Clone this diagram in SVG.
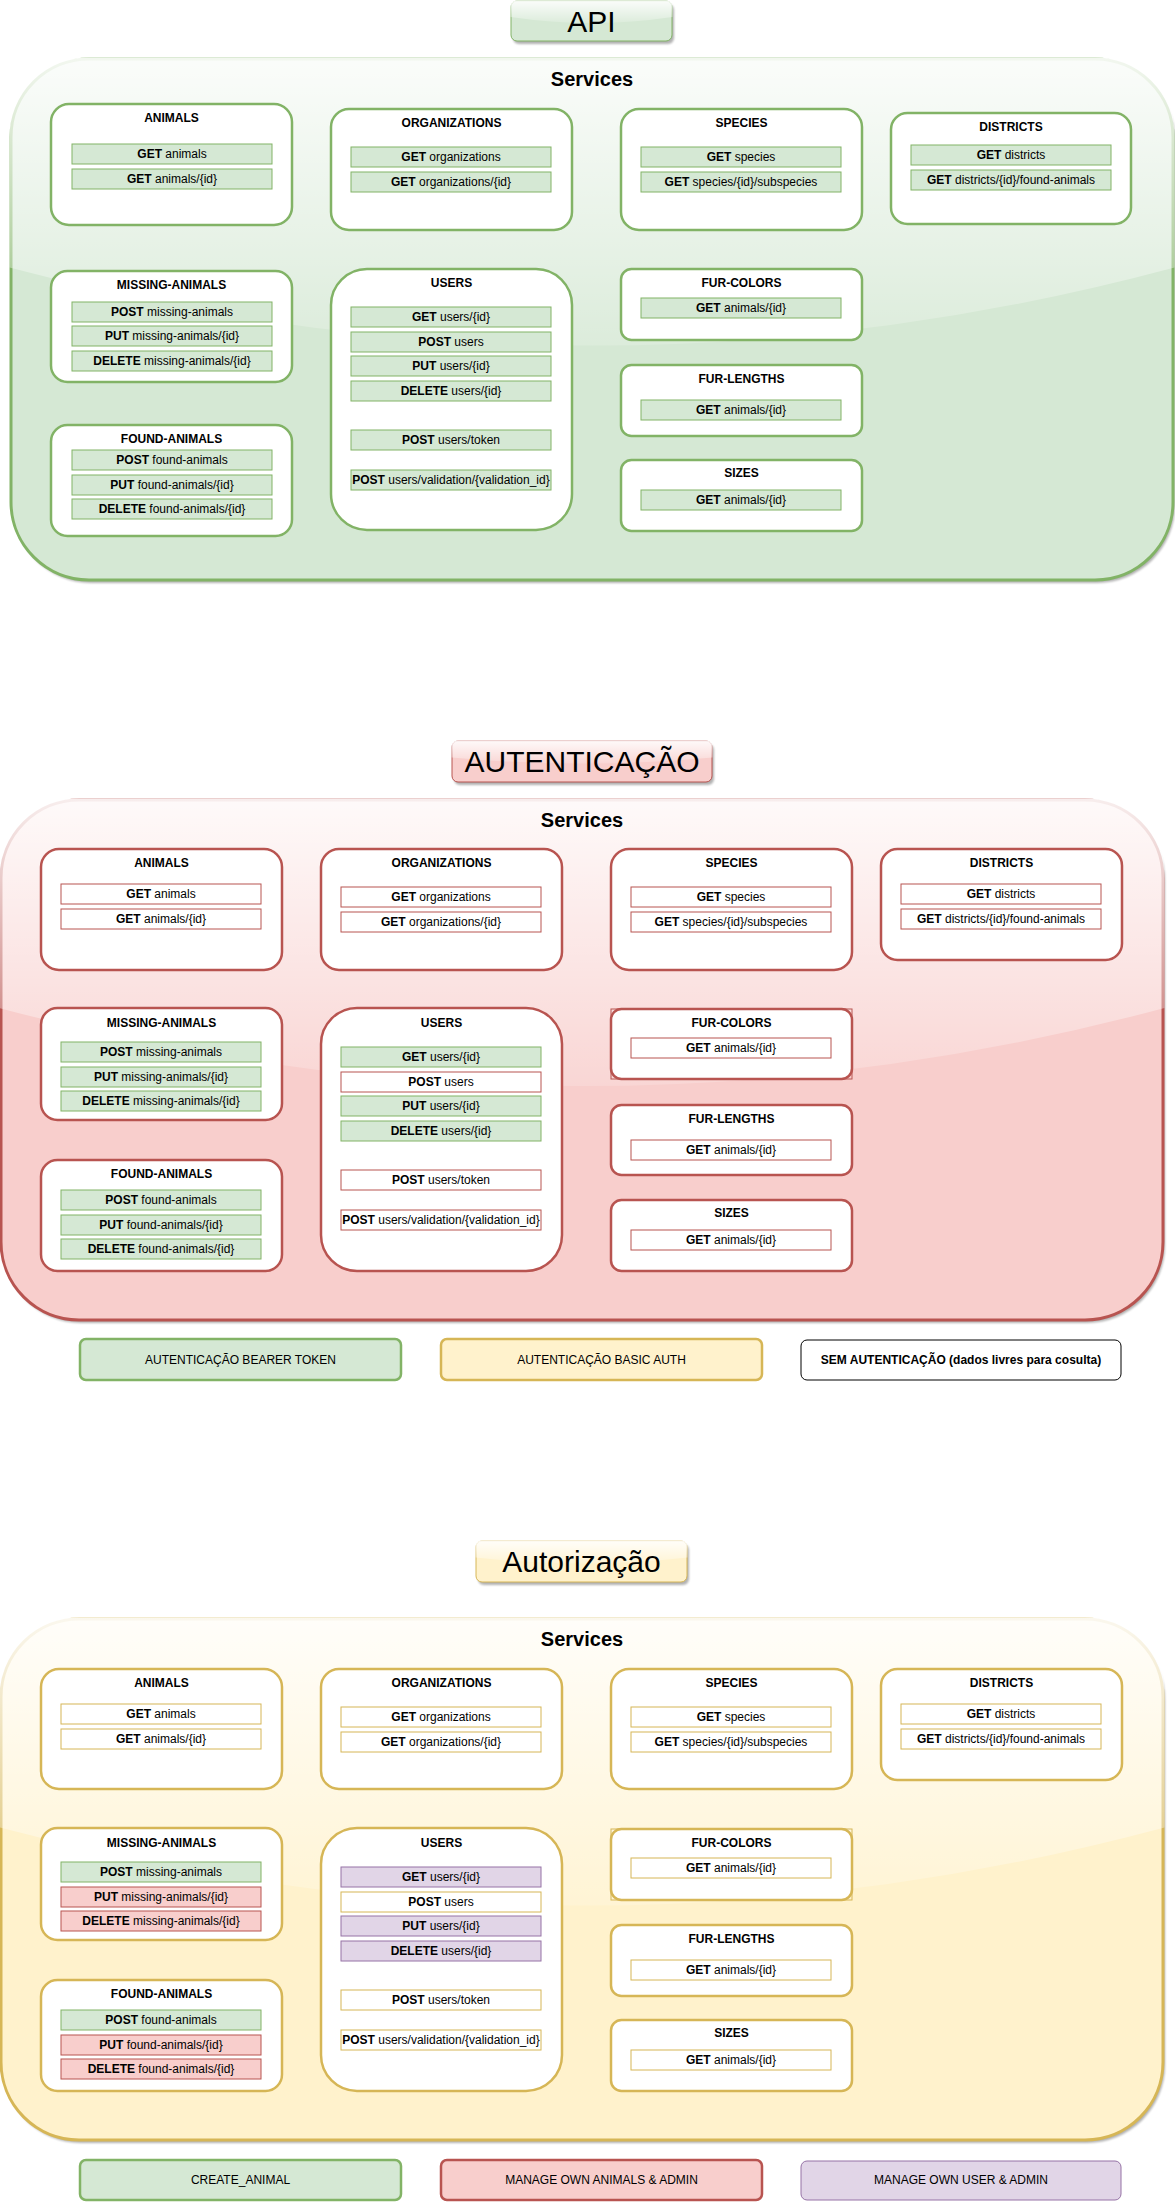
<svg xmlns="http://www.w3.org/2000/svg" width="1175" height="2202" viewBox="0 0 1175 2202">
<defs>
<linearGradient id="glass" x1="0" y1="0" x2="0" y2="1.09">
<stop offset="0" stop-color="#fff" stop-opacity="0.9"/>
<stop offset="1" stop-color="#fff" stop-opacity="0.1"/>
</linearGradient>
<filter id="blur" x="-5%" y="-5%" width="110%" height="110%"><feGaussianBlur stdDeviation="1.2"/></filter>
<style>
text{font-family:"Liberation Sans",Arial,sans-serif;fill:#000}
.tt{font-size:30px;text-anchor:middle}
.sv{font-size:20px;font-weight:bold;text-anchor:middle}
.bt{font-size:12px;font-weight:bold;text-anchor:middle}
.et{font-size:12px;text-anchor:middle}
.lt{font-size:12px;text-anchor:middle}
.b{font-weight:bold}
.shd{fill:#000;opacity:0.3;filter:url(#blur)}
.gl{fill:url(#glass);stroke:none}
.cg{fill:#d5e8d4;stroke:#82b366;stroke-width:3}
.cr{fill:#f8cecc;stroke:#b85450;stroke-width:3}
.cy{fill:#fff2cc;stroke:#d6b656;stroke-width:3}
.tg{fill:#d5e8d4;stroke:#82b366;stroke-width:1}
.tr{fill:#f8cecc;stroke:#b85450;stroke-width:1}
.ty{fill:#fff2cc;stroke:#d6b656;stroke-width:1}
.bg{fill:#fff;stroke:#82b366;stroke-width:2.5}
.br{fill:#fff;stroke:#b85450;stroke-width:2.5}
.by{fill:#fff;stroke:#d6b656;stroke-width:2.5}
.sqr{fill:none;stroke:#b85450;stroke-width:1}
.sqy{fill:none;stroke:#d6b656;stroke-width:1}
.eg{fill:#d5e8d4;stroke:#82b366;stroke-width:1}
.ewr{fill:#fff;stroke:#b85450;stroke-width:1}
.ewy{fill:#fff;stroke:#d6b656;stroke-width:1}
.er{fill:#f8cecc;stroke:#b85450;stroke-width:1}
.ep{fill:#e1d5e7;stroke:#9673a6;stroke-width:1}
.lg{fill:#d5e8d4;stroke:#82b366;stroke-width:2.5}
.ly{fill:#fff2cc;stroke:#d6b656;stroke-width:2.5}
.lr{fill:#f8cecc;stroke:#b85450;stroke-width:2.5}
.lp{fill:#e1d5e7;stroke:#9673a6;stroke-width:1}
.lw{fill:#fff;stroke:#000;stroke-width:1}
</style>
</defs>
<rect width="1175" height="2202" fill="#fff"/>

<!-- ===================== API ===================== -->
<g id="api-title">
<rect class="shd" x="513" y="4" width="161" height="40" rx="6"/>
<rect class="tg" x="511" y="1" width="161" height="40" rx="6"/>
<path class="gl" d="M517,0.5 Q510.5,0.5 510.5,7 L510.5,17 Q591.5,29 672.5,17 L672.5,7 Q672.5,0.5 666,0.5 Z"/>
<text class="tt" x="591.5" y="32">API</text>
</g>
<g id="api-services">
<rect class="shd" x="13" y="62" width="1162" height="521" rx="78"/>
<rect class="cg" x="11" y="59" width="1162" height="521" rx="78"/>
<path class="gl" d="M89,57.5 Q9.5,57.5 9.5,137 L9.5,267.4 Q592,423.7 1174.5,267.4 L1174.5,137 Q1174.5,57.5 1095,57.5 Z"/>
<text class="sv" x="592" y="86">Services</text>
</g>
<g id="api-animals">
<rect class="bg" x="51" y="104" width="241" height="121" rx="18"/>
<text class="bt" x="171.5" y="122">ANIMALS</text>
<rect class="eg" x="72" y="144" width="200" height="20"/><text class="et" x="172" y="158"><tspan class="b">GET</tspan> animals</text>
<rect class="eg" x="72" y="169" width="200" height="20"/><text class="et" x="172" y="183"><tspan class="b">GET</tspan> animals/{id}</text>
</g>
<g id="api-organizations">
<rect class="bg" x="331" y="109" width="241" height="121" rx="18"/>
<text class="bt" x="451.5" y="127">ORGANIZATIONS</text>
<rect class="eg" x="351" y="147" width="200" height="20"/><text class="et" x="451" y="161"><tspan class="b">GET</tspan> organizations</text>
<rect class="eg" x="351" y="172" width="200" height="20"/><text class="et" x="451" y="186"><tspan class="b">GET</tspan> organizations/{id}</text>
</g>
<g id="api-species">
<rect class="bg" x="621" y="109" width="241" height="121" rx="18"/>
<text class="bt" x="741.5" y="127">SPECIES</text>
<rect class="eg" x="641" y="147" width="200" height="20"/><text class="et" x="741" y="161"><tspan class="b">GET</tspan> species</text>
<rect class="eg" x="641" y="172" width="200" height="20"/><text class="et" x="741" y="186"><tspan class="b">GET</tspan> species/{id}/subspecies</text>
</g>
<g id="api-districts">
<rect class="bg" x="891" y="113" width="240" height="111" rx="16.5"/>
<text class="bt" x="1011" y="131">DISTRICTS</text>
<rect class="eg" x="911" y="145" width="200" height="20"/><text class="et" x="1011" y="159"><tspan class="b">GET</tspan> districts</text>
<rect class="eg" x="911" y="170" width="200" height="20"/><text class="et" x="1011" y="184"><tspan class="b">GET</tspan> districts/{id}/found-animals</text>
</g>
<g id="api-missing-animals">
<rect class="bg" x="51" y="271" width="241" height="111" rx="16.5"/>
<text class="bt" x="171.5" y="289">MISSING-ANIMALS</text>
<rect class="eg" x="72" y="302" width="200" height="20"/><text class="et" x="172" y="316"><tspan class="b">POST</tspan> missing-animals</text>
<rect class="eg" x="72" y="326" width="200" height="20"/><text class="et" x="172" y="340"><tspan class="b">PUT</tspan> missing-animals/{id}</text>
<rect class="eg" x="72" y="351" width="200" height="20"/><text class="et" x="172" y="365"><tspan class="b">DELETE</tspan> missing-animals/{id}</text>
</g>
<g id="api-found-animals">
<rect class="bg" x="51" y="425" width="241" height="111" rx="16.5"/>
<text class="bt" x="171.5" y="443">FOUND-ANIMALS</text>
<rect class="eg" x="72" y="450" width="200" height="20"/><text class="et" x="172" y="464"><tspan class="b">POST</tspan> found-animals</text>
<rect class="eg" x="72" y="475" width="200" height="20"/><text class="et" x="172" y="489"><tspan class="b">PUT</tspan> found-animals/{id}</text>
<rect class="eg" x="72" y="499" width="200" height="20"/><text class="et" x="172" y="513"><tspan class="b">DELETE</tspan> found-animals/{id}</text>
</g>
<g id="api-users">
<rect class="bg" x="331" y="269" width="241" height="261" rx="36"/>
<text class="bt" x="451.5" y="287">USERS</text>
<rect class="eg" x="351" y="307" width="200" height="20"/><text class="et" x="451" y="321"><tspan class="b">GET</tspan> users/{id}</text>
<rect class="eg" x="351" y="332" width="200" height="20"/><text class="et" x="451" y="346"><tspan class="b">POST</tspan> users</text>
<rect class="eg" x="351" y="356" width="200" height="20"/><text class="et" x="451" y="370"><tspan class="b">PUT</tspan> users/{id}</text>
<rect class="eg" x="351" y="381" width="200" height="20"/><text class="et" x="451" y="395"><tspan class="b">DELETE</tspan> users/{id}</text>
<rect class="eg" x="351" y="430" width="200" height="20"/><text class="et" x="451" y="444"><tspan class="b">POST</tspan> users/token</text>
<rect class="eg" x="351" y="470" width="200" height="20"/><text class="et" x="451" y="484"><tspan class="b">POST</tspan> users/validation/{validation_id}</text>
</g>
<g id="api-fur-colors">
<rect class="bg" x="621" y="269" width="241" height="71" rx="10.5"/>
<text class="bt" x="741.5" y="287">FUR-COLORS</text>
<rect class="eg" x="641" y="298" width="200" height="20"/><text class="et" x="741" y="312"><tspan class="b">GET</tspan> animals/{id}</text>
</g>
<g id="api-fur-lengths">
<rect class="bg" x="621" y="365" width="241" height="71" rx="10.5"/>
<text class="bt" x="741.5" y="383">FUR-LENGTHS</text>
<rect class="eg" x="641" y="400" width="200" height="20"/><text class="et" x="741" y="414"><tspan class="b">GET</tspan> animals/{id}</text>
</g>
<g id="api-sizes">
<rect class="bg" x="621" y="460" width="241" height="71" rx="10.5"/>
<text class="bt" x="741.5" y="477">SIZES</text>
<rect class="eg" x="641" y="490" width="200" height="20"/><text class="et" x="741" y="504"><tspan class="b">GET</tspan> animals/{id}</text>
</g>

<!-- ===================== AUTENTICACAO ===================== -->
<g id="auth-title">
<rect class="shd" x="454" y="744" width="260" height="41" rx="6"/>
<rect class="tr" x="452" y="741" width="260" height="41" rx="6"/>
<path class="gl" d="M458,740.5 Q451.5,740.5 451.5,747 L451.5,757.4 Q582,769.7 712.5,757.4 L712.5,747 Q712.5,740.5 706,740.5 Z"/>
<text class="tt" x="582" y="772">AUTENTICAÇÃO</text>
</g>
<g id="auth-services">
<rect class="shd" x="3" y="803" width="1162" height="520" rx="78"/>
<rect class="cr" x="1" y="800" width="1162" height="520" rx="78"/>
<path class="gl" d="M77.5,798.5 Q-0.5,798.5 -0.5,877 L-0.5,1008 Q582,1164 1164.5,1008 L1164.5,877 Q1164.5,798.5 1086,798.5 Z"/>
<text class="sv" x="582" y="827">Services</text>
</g>
<g id="auth-animals">
<rect class="br" x="41" y="849" width="241" height="121" rx="18"/>
<text class="bt" x="161.5" y="867">ANIMALS</text>
<rect class="ewr" x="61" y="884" width="200" height="20"/><text class="et" x="161" y="898"><tspan class="b">GET</tspan> animals</text>
<rect class="ewr" x="61" y="909" width="200" height="20"/><text class="et" x="161" y="923"><tspan class="b">GET</tspan> animals/{id}</text>
</g>
<g id="auth-organizations">
<rect class="br" x="321" y="849" width="241" height="121" rx="18"/>
<text class="bt" x="441.5" y="867">ORGANIZATIONS</text>
<rect class="ewr" x="341" y="887" width="200" height="20"/><text class="et" x="441" y="901"><tspan class="b">GET</tspan> organizations</text>
<rect class="ewr" x="341" y="912" width="200" height="20"/><text class="et" x="441" y="926"><tspan class="b">GET</tspan> organizations/{id}</text>
</g>
<g id="auth-species">
<rect class="br" x="611" y="849" width="241" height="121" rx="18"/>
<text class="bt" x="731.5" y="867">SPECIES</text>
<rect class="ewr" x="631" y="887" width="200" height="20"/><text class="et" x="731" y="901"><tspan class="b">GET</tspan> species</text>
<rect class="ewr" x="631" y="912" width="200" height="20"/><text class="et" x="731" y="926"><tspan class="b">GET</tspan> species/{id}/subspecies</text>
</g>
<g id="auth-districts">
<rect class="br" x="881" y="849" width="241" height="111" rx="16.5"/>
<text class="bt" x="1001.5" y="867">DISTRICTS</text>
<rect class="ewr" x="901" y="884" width="200" height="20"/><text class="et" x="1001" y="898"><tspan class="b">GET</tspan> districts</text>
<rect class="ewr" x="901" y="909" width="200" height="20"/><text class="et" x="1001" y="923"><tspan class="b">GET</tspan> districts/{id}/found-animals</text>
</g>
<g id="auth-missing-animals">
<rect class="br" x="41" y="1008" width="241" height="112" rx="16.5"/>
<text class="bt" x="161.5" y="1027">MISSING-ANIMALS</text>
<rect class="eg" x="61" y="1042" width="200" height="20"/><text class="et" x="161" y="1056"><tspan class="b">POST</tspan> missing-animals</text>
<rect class="eg" x="61" y="1067" width="200" height="20"/><text class="et" x="161" y="1081"><tspan class="b">PUT</tspan> missing-animals/{id}</text>
<rect class="eg" x="61" y="1091" width="200" height="20"/><text class="et" x="161" y="1105"><tspan class="b">DELETE</tspan> missing-animals/{id}</text>
</g>
<g id="auth-found-animals">
<rect class="br" x="41" y="1160" width="241" height="111" rx="16.5"/>
<text class="bt" x="161.5" y="1178">FOUND-ANIMALS</text>
<rect class="eg" x="61" y="1190" width="200" height="20"/><text class="et" x="161" y="1204"><tspan class="b">POST</tspan> found-animals</text>
<rect class="eg" x="61" y="1215" width="200" height="20"/><text class="et" x="161" y="1229"><tspan class="b">PUT</tspan> found-animals/{id}</text>
<rect class="eg" x="61" y="1239" width="200" height="20"/><text class="et" x="161" y="1253"><tspan class="b">DELETE</tspan> found-animals/{id}</text>
</g>
<g id="auth-users">
<rect class="br" x="321" y="1008" width="241" height="263" rx="36"/>
<text class="bt" x="441.5" y="1027">USERS</text>
<rect class="eg" x="341" y="1047" width="200" height="20"/><text class="et" x="441" y="1061"><tspan class="b">GET</tspan> users/{id}</text>
<rect class="ewr" x="341" y="1072" width="200" height="20"/><text class="et" x="441" y="1086"><tspan class="b">POST</tspan> users</text>
<rect class="eg" x="341" y="1096" width="200" height="20"/><text class="et" x="441" y="1110"><tspan class="b">PUT</tspan> users/{id}</text>
<rect class="eg" x="341" y="1121" width="200" height="20"/><text class="et" x="441" y="1135"><tspan class="b">DELETE</tspan> users/{id}</text>
<rect class="ewr" x="341" y="1170" width="200" height="20"/><text class="et" x="441" y="1184"><tspan class="b">POST</tspan> users/token</text>
<rect class="ewr" x="341" y="1210" width="200" height="20"/><text class="et" x="441" y="1224"><tspan class="b">POST</tspan> users/validation/{validation_id}</text>
</g>
<g id="auth-fur-colors">
<rect class="sqr" x="611" y="1009" width="241" height="70"/>
<rect class="br" x="611" y="1009" width="241" height="70" rx="10.5"/>
<text class="bt" x="731.5" y="1027">FUR-COLORS</text>
<rect class="ewr" x="631" y="1038" width="200" height="20"/><text class="et" x="731" y="1052"><tspan class="b">GET</tspan> animals/{id}</text>
</g>
<g id="auth-fur-lengths">
<rect class="br" x="611" y="1105" width="241" height="70" rx="10.5"/>
<text class="bt" x="731.5" y="1123">FUR-LENGTHS</text>
<rect class="ewr" x="631" y="1140" width="200" height="20"/><text class="et" x="731" y="1154"><tspan class="b">GET</tspan> animals/{id}</text>
</g>
<g id="auth-sizes">
<rect class="br" x="611" y="1200" width="241" height="71" rx="10.5"/>
<text class="bt" x="731.5" y="1217">SIZES</text>
<rect class="ewr" x="631" y="1230" width="200" height="20"/><text class="et" x="731" y="1244"><tspan class="b">GET</tspan> animals/{id}</text>
</g>
<g id="legend-bearer">
<rect class="lg" x="80" y="1339" width="321" height="41" rx="6"/>
<text class="lt" x="240.5" y="1364">AUTENTICAÇÃO BEARER TOKEN</text>
</g>
<g id="legend-basic">
<rect class="ly" x="441" y="1339" width="321" height="41" rx="6"/>
<text class="lt" x="601.5" y="1364">AUTENTICAÇÃO BASIC AUTH</text>
</g>
<g id="legend-none">
<rect class="lw" x="801" y="1340" width="320" height="40" rx="6"/>
<text class="lt b" x="961" y="1364">SEM AUTENTICAÇÃO (dados livres para cosulta)</text>
</g>

<!-- ===================== AUTORIZACAO ===================== -->
<g id="authz-title">
<rect class="shd" x="478" y="1544" width="211" height="41" rx="6"/>
<rect class="ty" x="476" y="1541" width="211" height="41" rx="6"/>
<path class="gl" d="M482,1540.5 Q475.5,1540.5 475.5,1547 L475.5,1557.4 Q581.5,1569.7 687.5,1557.4 L687.5,1547 Q687.5,1540.5 681,1540.5 Z"/>
<text class="tt" x="581.5" y="1572">Autorização</text>
</g>
<g id="authz-services">
<rect class="shd" x="3" y="1622" width="1162" height="521" rx="78"/>
<rect class="cy" x="1" y="1619" width="1162" height="521" rx="78"/>
<path class="gl" d="M77.5,1617.5 Q-0.5,1617.5 -0.5,1696 L-0.5,1827.4 Q582,1983.7 1164.5,1827.4 L1164.5,1696 Q1164.5,1617.5 1086,1617.5 Z"/>
<text class="sv" x="582" y="1646">Services</text>
</g>
<g id="authz-animals">
<rect class="by" x="41" y="1669" width="241" height="120" rx="18"/>
<text class="bt" x="161.5" y="1687">ANIMALS</text>
<rect class="ewy" x="61" y="1704" width="200" height="20"/><text class="et" x="161" y="1718"><tspan class="b">GET</tspan> animals</text>
<rect class="ewy" x="61" y="1729" width="200" height="20"/><text class="et" x="161" y="1743"><tspan class="b">GET</tspan> animals/{id}</text>
</g>
<g id="authz-organizations">
<rect class="by" x="321" y="1669" width="241" height="120" rx="18"/>
<text class="bt" x="441.5" y="1687">ORGANIZATIONS</text>
<rect class="ewy" x="341" y="1707" width="200" height="20"/><text class="et" x="441" y="1721"><tspan class="b">GET</tspan> organizations</text>
<rect class="ewy" x="341" y="1732" width="200" height="20"/><text class="et" x="441" y="1746"><tspan class="b">GET</tspan> organizations/{id}</text>
</g>
<g id="authz-species">
<rect class="by" x="611" y="1669" width="241" height="120" rx="18"/>
<text class="bt" x="731.5" y="1687">SPECIES</text>
<rect class="ewy" x="631" y="1707" width="200" height="20"/><text class="et" x="731" y="1721"><tspan class="b">GET</tspan> species</text>
<rect class="ewy" x="631" y="1732" width="200" height="20"/><text class="et" x="731" y="1746"><tspan class="b">GET</tspan> species/{id}/subspecies</text>
</g>
<g id="authz-districts">
<rect class="by" x="881" y="1669" width="241" height="111" rx="16.5"/>
<text class="bt" x="1001.5" y="1687">DISTRICTS</text>
<rect class="ewy" x="901" y="1704" width="200" height="20"/><text class="et" x="1001" y="1718"><tspan class="b">GET</tspan> districts</text>
<rect class="ewy" x="901" y="1729" width="200" height="20"/><text class="et" x="1001" y="1743"><tspan class="b">GET</tspan> districts/{id}/found-animals</text>
</g>
<g id="authz-missing-animals">
<rect class="by" x="41" y="1828" width="241" height="112" rx="16.5"/>
<text class="bt" x="161.5" y="1847">MISSING-ANIMALS</text>
<rect class="eg" x="61" y="1862" width="200" height="20"/><text class="et" x="161" y="1876"><tspan class="b">POST</tspan> missing-animals</text>
<rect class="er" x="61" y="1887" width="200" height="20"/><text class="et" x="161" y="1901"><tspan class="b">PUT</tspan> missing-animals/{id}</text>
<rect class="er" x="61" y="1911" width="200" height="20"/><text class="et" x="161" y="1925"><tspan class="b">DELETE</tspan> missing-animals/{id}</text>
</g>
<g id="authz-found-animals">
<rect class="by" x="41" y="1980" width="241" height="111" rx="16.5"/>
<text class="bt" x="161.5" y="1998">FOUND-ANIMALS</text>
<rect class="eg" x="61" y="2010" width="200" height="20"/><text class="et" x="161" y="2024"><tspan class="b">POST</tspan> found-animals</text>
<rect class="er" x="61" y="2035" width="200" height="20"/><text class="et" x="161" y="2049"><tspan class="b">PUT</tspan> found-animals/{id}</text>
<rect class="er" x="61" y="2059" width="200" height="20"/><text class="et" x="161" y="2073"><tspan class="b">DELETE</tspan> found-animals/{id}</text>
</g>
<g id="authz-users">
<rect class="by" x="321" y="1828" width="241" height="263" rx="36"/>
<text class="bt" x="441.5" y="1847">USERS</text>
<rect class="ep" x="341" y="1867" width="200" height="20"/><text class="et" x="441" y="1881"><tspan class="b">GET</tspan> users/{id}</text>
<rect class="ewy" x="341" y="1892" width="200" height="20"/><text class="et" x="441" y="1906"><tspan class="b">POST</tspan> users</text>
<rect class="ep" x="341" y="1916" width="200" height="20"/><text class="et" x="441" y="1930"><tspan class="b">PUT</tspan> users/{id}</text>
<rect class="ep" x="341" y="1941" width="200" height="20"/><text class="et" x="441" y="1955"><tspan class="b">DELETE</tspan> users/{id}</text>
<rect class="ewy" x="341" y="1990" width="200" height="20"/><text class="et" x="441" y="2004"><tspan class="b">POST</tspan> users/token</text>
<rect class="ewy" x="341" y="2030" width="200" height="20"/><text class="et" x="441" y="2044"><tspan class="b">POST</tspan> users/validation/{validation_id}</text>
</g>
<g id="authz-fur-colors">
<rect class="sqy" x="611" y="1829" width="241" height="71"/>
<rect class="by" x="611" y="1829" width="241" height="71" rx="10.5"/>
<text class="bt" x="731.5" y="1847">FUR-COLORS</text>
<rect class="ewy" x="631" y="1858" width="200" height="20"/><text class="et" x="731" y="1872"><tspan class="b">GET</tspan> animals/{id}</text>
</g>
<g id="authz-fur-lengths">
<rect class="by" x="611" y="1925" width="241" height="71" rx="10.5"/>
<text class="bt" x="731.5" y="1943">FUR-LENGTHS</text>
<rect class="ewy" x="631" y="1960" width="200" height="20"/><text class="et" x="731" y="1974"><tspan class="b">GET</tspan> animals/{id}</text>
</g>
<g id="authz-sizes">
<rect class="by" x="611" y="2020" width="241" height="71" rx="10.5"/>
<text class="bt" x="731.5" y="2037">SIZES</text>
<rect class="ewy" x="631" y="2050" width="200" height="20"/><text class="et" x="731" y="2064"><tspan class="b">GET</tspan> animals/{id}</text>
</g>
<g id="legend-create-animal">
<rect class="lg" x="80" y="2160" width="321" height="40" rx="6"/>
<text class="lt" x="240.5" y="2184">CREATE_ANIMAL</text>
</g>
<g id="legend-manage-animals">
<rect class="lr" x="441" y="2160" width="321" height="40" rx="6"/>
<text class="lt" x="601.5" y="2184">MANAGE OWN ANIMALS &amp; ADMIN</text>
</g>
<g id="legend-manage-user">
<rect class="lp" x="801" y="2161" width="320" height="39" rx="6"/>
<text class="lt" x="961" y="2184">MANAGE OWN USER &amp; ADMIN</text>
</g>

<g id="connectors"/>
</svg>
